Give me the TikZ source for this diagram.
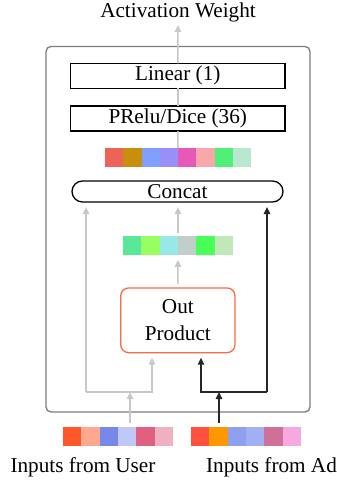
\documentclass[tikz,border=0pt]{standalone}
\usepackage{fontspec}
\setmainfont{Liberation Serif}
\usetikzlibrary{arrows.meta}

% palette
\definecolor{softgray}{RGB}{200,200,200}
\definecolor{framegray}{RGB}{125,125,125}
\definecolor{opline}{RGB}{255,105,65}
% hidden-layer activations
\definecolor{fa}{RGB}{236,99,88}
\definecolor{fb}{RGB}{200,144,10}
\definecolor{fc}{RGB}{128,160,255}
\definecolor{fd}{RGB}{152,144,248}
\definecolor{fe}{RGB}{232,88,184}
\definecolor{ff}{RGB}{248,168,168}
\definecolor{fg}{RGB}{80,240,120}
\definecolor{fh}{RGB}{184,232,208}
% out-product vector
\definecolor{pa}{RGB}{88,232,152}
\definecolor{pb}{RGB}{152,255,96}
\definecolor{pc}{RGB}{152,232,232}
\definecolor{pd}{RGB}{192,208,200}
\definecolor{pe}{RGB}{72,255,88}
\definecolor{pf}{RGB}{192,232,184}
% user embedding
\definecolor{ua}{RGB}{255,88,40}
\definecolor{ub}{RGB}{255,168,144}
\definecolor{uc}{RGB}{120,136,232}
\definecolor{ud}{RGB}{192,200,248}
\definecolor{ue}{RGB}{224,96,128}
\definecolor{uf}{RGB}{240,176,192}
% ad embedding
\definecolor{aa}{RGB}{255,80,64}
\definecolor{ab}{RGB}{255,152,0}
\definecolor{ac}{RGB}{144,160,240}
\definecolor{ad}{RGB}{160,176,240}
\definecolor{ae}{RGB}{208,112,152}
\definecolor{af}{RGB}{248,168,224}

\tikzset{
  every node/.style={font=\fontsize{10.6}{13.5}\selectfont, inner sep=0pt, outer sep=0pt},
  layer/.style={draw=black, line width=0.65pt, fill=white,
    minimum width=107.25pt, minimum height=12.5pt},
  pill/.style={draw=black, line width=0.65pt, rounded corners=5.25pt,
    minimum width=105.5pt, minimum height=10.5pt},
  opbox/.style={draw=opline, line width=0.65pt, rounded corners=4pt,
    minimum width=57.15pt, minimum height=32.35pt, align=center},
  frame/.style={draw=framegray, line width=0.65pt, rounded corners=2.5pt},
  cellbar/.style={minimum height=9.4pt},
  softline/.style={draw=softgray, line width=0.75pt},
  softarrow/.style={softline, -{Triangle[length=3.5pt,width=3.2pt]}},
  hardarrow/.style={draw=black!85, line width=0.75pt, -{Triangle[length=3.5pt,width=3.2pt]}},
}

\begin{document}
\begin{tikzpicture}[x=0.5pt, y=-0.5pt]
\useasboundingbox (0,0) rectangle (337,482);

% attention unit frame
\node[frame, minimum width=132pt, minimum height=182.75pt] (frame) at (178,229.25) {};

% output label
\node[anchor=base] (title) at (178,17.5) {Activation Weight};
\coordinate (tip) at (178,25);

% stacked layers
\node[layer] (linear) at (177.75,75.8) {Linear (1)};
\node[layer] (prelu) at (177.75,118.5) {PRelu/Dice (36)};

% hidden activations
\node[cellbar, minimum width=73pt] (feat) at (178,157.5) {};
\foreach \c [count=\i from 0] in {fa,fb,fc,fd,fe,ff,fg,fh}
  \fill[\c] ([xshift=\i*9.125pt]feat.south west) rectangle ++(18.25,-18.8);

\node[pill] (concat) at (177.5,191.5) {Concat};

% out-product vector
\node[cellbar, minimum width=55pt] (prod) at (178,245.5) {};
\foreach \c [count=\i from 0] in {pa,pb,pc,pd,pe,pf}
  \fill[\c] ([xshift=\i*9.1667pt]prod.south west) rectangle ++(18.333,-18.8);

\node[opbox] (op) at (177.85,320.3) {Out\\Product};

% input embeddings
\node[cellbar, minimum width=55pt] (user) at (118,436.3) {};
\foreach \c [count=\i from 0] in {ua,ub,uc,ud,ue,uf}
  \fill[\c] ([xshift=\i*9.1667pt]user.south west) rectangle ++(18.333,-18.8);
\node[cellbar, minimum width=55pt] (adv) at (246,436.3) {};
\foreach \c [count=\i from 0] in {aa,ab,ac,ad,ae,af}
  \fill[\c] ([xshift=\i*9.1667pt]adv.south west) rectangle ++(18.333,-18.8);

\node[anchor=base] (userlbl) at (83,472) {Inputs from User};
\node[anchor=base] (adlbl) at (271.5,472) {Inputs from Ad};

% junction points
\coordinate (uj) at (130,392);
\coordinate (ul) at (86,392);
\coordinate (ur) at (152,392);
\coordinate (aj) at (219,392);
\coordinate (al) at (201,392);
\coordinate (ar) at (267,392);

% upper flow
\draw[softline] (feat.north) -- (prelu.south);
\draw[softline] (prelu.north) -- (linear.south);
\draw[softarrow] (linear.north) -- (tip);
\draw[softarrow, shorten <=1.5pt, shorten >=2.5pt] (prod.north) -- (concat.south -| prod.north);
\draw[softarrow, shorten <=2pt, shorten >=2.5pt] (op.north) -- (prod.south);

% user branch
\draw[softarrow, shorten <=2pt] (uj |- user.north) -- (uj);
\draw[softarrow, shorten >=2.5pt] (ul) -- (ur) -- (op.south -| ur);
\draw[softarrow, shorten >=2.5pt] (ul) -- (concat.south -| ul);

% ad branch
\draw[hardarrow, shorten <=2pt] (aj |- adv.north) -- (aj);
\draw[hardarrow, shorten >=2.5pt] (ar) -- (al) -- (op.south -| al);
\draw[hardarrow, shorten >=2.5pt] (ar) -- (concat.south -| ar);
\end{tikzpicture}
\end{document}
